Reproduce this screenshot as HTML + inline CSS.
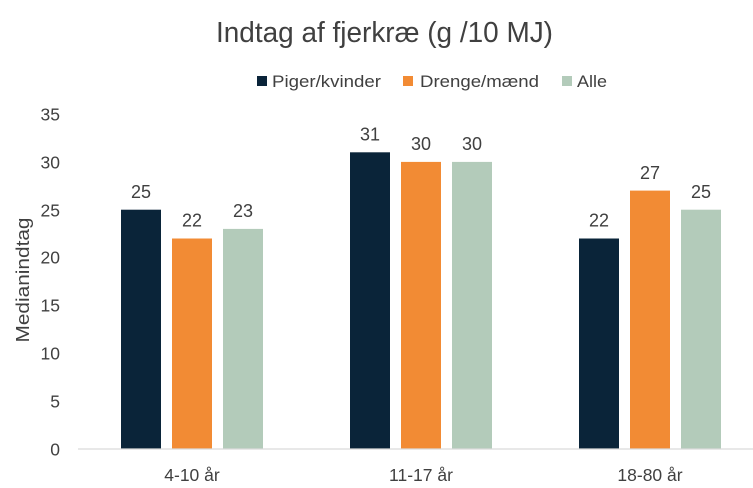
<!DOCTYPE html>
<html>
<head>
<meta charset="utf-8">
<style>
  html,body{margin:0;padding:0;background:#fff;}
  svg{display:block;}
  text{font-family:"Liberation Sans",sans-serif;fill:#404040;}
</style>
</head>
<body>
<svg width="753" height="488" viewBox="0 0 753 488" xmlns="http://www.w3.org/2000/svg">
  <rect x="0" y="0" width="753" height="488" fill="#fff"/>
  <!-- Title -->
  <text x="216" y="42" font-size="29" textLength="337" lengthAdjust="spacingAndGlyphs">Indtag af fjerkræ (g /10 MJ)</text>

  <!-- Legend -->
  <rect x="257" y="76" width="10" height="10" fill="#0a2439"/>
  <text x="272" y="87" font-size="17" textLength="109" lengthAdjust="spacingAndGlyphs">Piger/kvinder</text>
  <rect x="403" y="76" width="10" height="10" fill="#f28b34"/>
  <text x="420" y="87" font-size="17" textLength="119" lengthAdjust="spacingAndGlyphs">Drenge/mænd</text>
  <rect x="562" y="76" width="10" height="10" fill="#b3cbba"/>
  <text x="577" y="87" font-size="17" textLength="30" lengthAdjust="spacingAndGlyphs">Alle</text>

  <!-- Y axis labels -->
  <g font-size="17.5" text-anchor="end">
    <text x="60" y="120.5">35</text>
    <text x="60" y="168.5">30</text>
    <text x="60" y="216.5">25</text>
    <text x="60" y="263.5">20</text>
    <text x="60" y="311.5">15</text>
    <text x="60" y="359.5">10</text>
    <text x="60" y="407.5">5</text>
    <text x="60" y="455.5">0</text>
  </g>

  <!-- Y axis title -->
  <text transform="translate(29,280) rotate(-90)" font-size="18" text-anchor="middle" textLength="125" lengthAdjust="spacingAndGlyphs">Medianindtag</text>

  <!-- Bars group 1 -->
  <rect x="121" y="209.7" width="40" height="239.3" fill="#0a2439"/>
  <rect x="172" y="238.5" width="40" height="210.5" fill="#f28b34"/>
  <rect x="223" y="228.9" width="40" height="220.1" fill="#b3cbba"/>
  <!-- group 2 -->
  <rect x="350" y="152.3" width="40" height="296.7" fill="#0a2439"/>
  <rect x="401" y="161.9" width="40" height="287.1" fill="#f28b34"/>
  <rect x="452" y="161.9" width="40" height="287.1" fill="#b3cbba"/>
  <!-- group 3 -->
  <rect x="579" y="238.5" width="40" height="210.5" fill="#0a2439"/>
  <rect x="630" y="190.6" width="40" height="258.4" fill="#f28b34"/>
  <rect x="681" y="209.7" width="40" height="239.3" fill="#b3cbba"/>

  <!-- Axis line -->
  <line x1="78" y1="449" x2="753" y2="449" stroke="#d9d9d9" stroke-width="1.2"/>

  <!-- Data labels -->
  <g font-size="18" text-anchor="middle">
    <text x="141" y="198">25</text>
    <text x="192" y="226.5">22</text>
    <text x="243" y="217">23</text>
    <text x="370" y="140.5">31</text>
    <text x="421" y="150">30</text>
    <text x="472" y="150">30</text>
    <text x="599" y="226.5">22</text>
    <text x="650" y="179">27</text>
    <text x="701" y="198">25</text>
  </g>

  <!-- X labels -->
  <g font-size="17.5" text-anchor="middle">
    <text x="192" y="481">4-10 år</text>
    <text x="421" y="481">11-17 år</text>
    <text x="650" y="481">18-80 år</text>
  </g>
</svg>
</body>
</html>
